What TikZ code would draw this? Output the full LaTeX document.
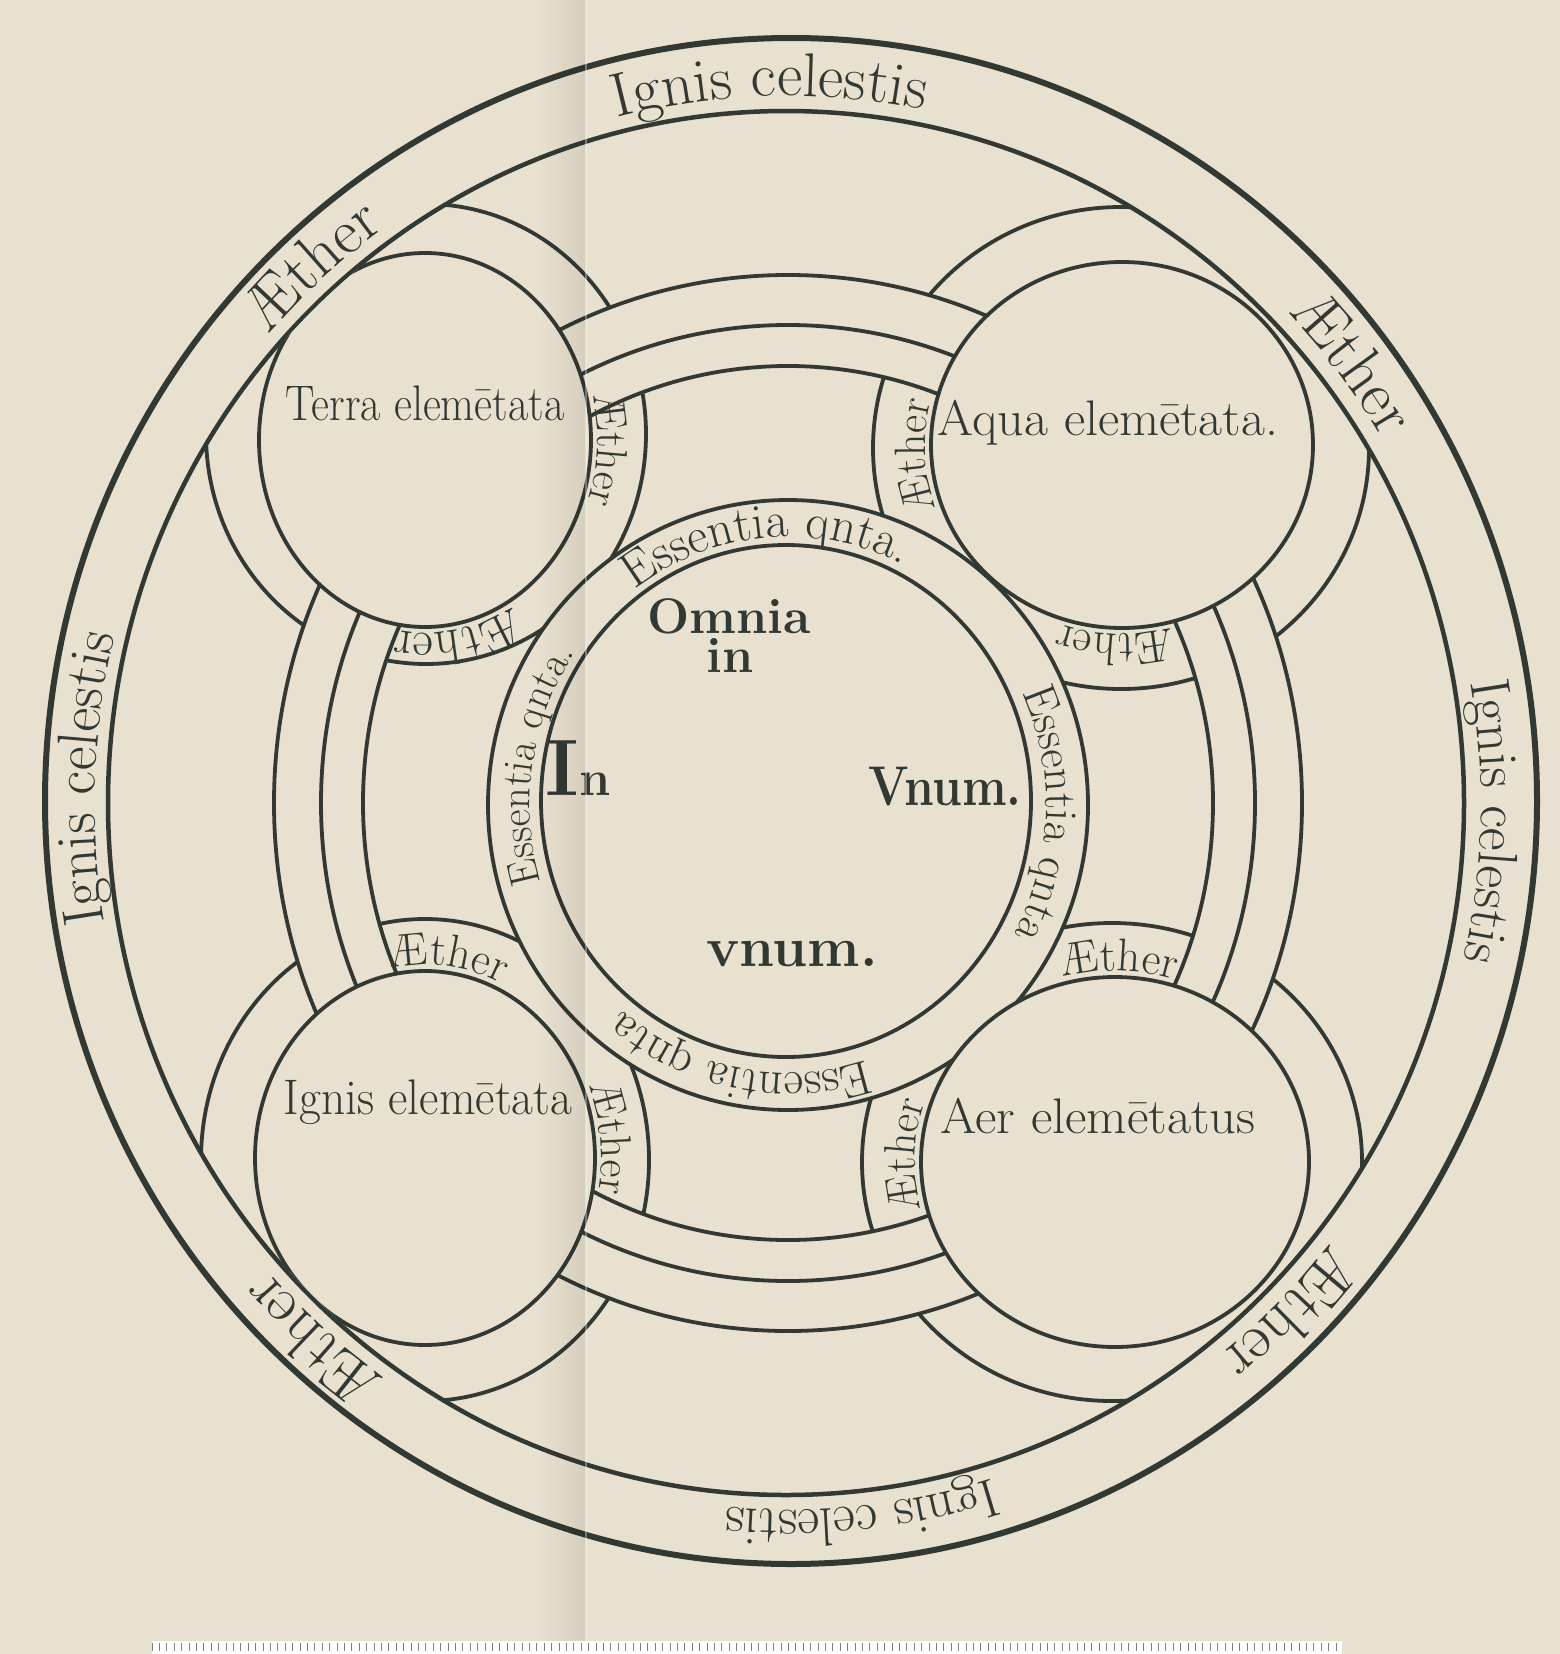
\documentclass[tikz,border=0pt]{standalone}
\usepackage{graphicx}
\usetikzlibrary{decorations.text}
\definecolor{paper}{RGB}{233,225,207}
\definecolor{ink}{RGB}{50,56,50}
\newcommand{\arctext}[7]{%
  \path[decorate, decoration={text along path, text align=center,
    text={|\fontsize{#6}{#6}\selectfont\color{ink}|#7}}]
    (#1) ++(#4:#2 and #3) arc[start angle=#4, end angle=#5, x radius=#2, y radius=#3];}
\begin{document}
\begin{tikzpicture}[x=1pt,y=1pt,line join=round,
  inkline/.style={draw=ink, line width=3.8pt},
  heavyline/.style={draw=ink, line width=6pt},
  lbl/.style={text=ink, inner sep=0pt, anchor=base}]
\useasboundingbox (0,0) rectangle (1560,-1654);
\fill[paper] (0,0) rectangle (1560,-1654);
% centres
\coordinate (OC) at (791,-801);
\coordinate (IC) at (786,-803);
\coordinate (BC) at (788,-803);
\coordinate (EC) at (788,-805);
\coordinate (EI) at (786,-801);
\coordinate (TC) at (425,-440);
\coordinate (QC) at (1122,-445);
\coordinate (GC) at (425,-1158);
\coordinate (RC) at (1115,-1162);
\coordinate (TR) at (426,-434);
\coordinate (QR) at (1121,-448);
\coordinate (GR) at (425,-1160);
\coordinate (RR) at (1112,-1162);
% outer band
\draw[heavyline] (OC) ellipse [x radius=746, y radius=763];
\draw[inkline, line width=4.5pt] (IC) ellipse [x radius=678, y radius=692];
% aether rings of the elements
\begin{scope}
  \clip (IC) ellipse [x radius=678, y radius=692];
  \draw[inkline] (TR) ellipse [x radius=220, y radius=230];
  \draw[inkline] (QR) ellipse [x radius=248, y radius=241];
  \draw[inkline] (GR) ellipse [x radius=224, y radius=241];
  \draw[inkline] (RR) ellipse [x radius=250, y radius=239];
\end{scope}
% great band
\fill[paper, even odd rule] (BC) ellipse [x radius=514, y radius=528] (BC) ellipse [x radius=425, y radius=437];
\draw[inkline] (BC) ellipse [x radius=514, y radius=528];
\draw[inkline] (BC) ellipse [x radius=467, y radius=478];
\draw[inkline] (BC) ellipse [x radius=425, y radius=437];
% essentia quinta ring
\fill[paper] (EC) ellipse [x radius=300, y radius=305];
\draw[inkline] (EC) ellipse [x radius=300, y radius=305];
\draw[inkline] (EI) ellipse [x radius=245, y radius=256];
% element circles
\begin{scope}
  \clip (IC) ellipse [x radius=676, y radius=690];
  \filldraw[fill=paper, inkline] (TC) ellipse [x radius=166, y radius=187];
  \filldraw[fill=paper, inkline] (QC) ellipse [x radius=191, y radius=183];
  \filldraw[fill=paper, inkline] (GC) ellipse [x radius=170, y radius=187];
  \filldraw[fill=paper, inkline] (RC) ellipse [x radius=194, y radius=185];
\end{scope}
% texts of the outer band
\arctext{BC}{693}{707}{112}{71}{62}{Ignis celestis}
\arctext{BC}{693}{707}{154}{110}{64}{Æther}
\arctext{BC}{693}{707}{60}{15}{64}{Æther}
\arctext{BC}{693}{707}{20}{-23}{56}{Ignis celestis}
\arctext{BC}{693}{707}{-23}{-67}{64}{Æther}
\arctext{BC}{693}{707}{-63}{-105}{54}{Ignis celestis}
\arctext{BC}{693}{707}{-110}{-154}{64}{Æther}
\arctext{BC}{693}{707}{200}{156}{58}{Ignis celestis}
% texts of the essentia ring
\arctext{EC}{258}{268}{140}{50}{50}{Essentia qnta.}
\arctext{EC}{258}{268}{215}{127}{42}{Essentia qnta.}
\arctext{EC}{258}{268}{42}{-46}{46}{Essentia qnta}
\arctext{EC}{258}{268}{-56}{-146}{48}{Essentia qnta}
% aether labels in the element rings
\arctext{TC}{172}{193}{37}{-43}{44}{Æther}
\arctext{TC}{172}{193}{-35}{-125}{50}{Æther}
\arctext{QC}{197}{189}{223}{143}{44}{Æther}
\arctext{QC}{197}{189}{-52}{-132}{46}{Æther}
\arctext{GC}{176}{193}{123}{43}{46}{Æther}
\arctext{GC}{176}{193}{46}{-34}{44}{Æther}
\arctext{RC}{200}{191}{129}{49}{46}{Æther}
\arctext{RC}{200}{191}{218}{138}{44}{Æther}
% element names
\node[lbl] (terra) at (425,-420) {\fontsize{50}{50}\selectfont\scalebox{0.88}[1]{Terra elemētata}};
\node[lbl] (aqua) at (1108,-435) {\fontsize{50}{50}\selectfont\scalebox{1.04}[1]{Aqua elemētata.}};
\node[lbl] (ignis) at (428,-1114) {\fontsize{50}{50}\selectfont\scalebox{0.95}[1]{Ignis elemētata}};
\node[lbl] (aer) at (1098,-1133) {\fontsize{50}{50}\selectfont\scalebox{1.05}[1]{Aer elemētatus}};
% centre
\node[lbl] (omnia) at (729,-633) {\fontsize{50}{50}\selectfont\bfseries Omnia};
\node[lbl] (inA) at (730,-672) {\fontsize{50}{50}\selectfont\bfseries in};
\node[lbl] (inB) at (578,-795) {\bfseries{\fontsize{80}{80}\selectfont I}{\fontsize{50}{50}\selectfont n}};
\node[lbl] (vnumA) at (945,-805) {\fontsize{56}{56}\selectfont\bfseries\scalebox{0.85}[1]{Vnum.}};
\node[lbl] (vnumB) at (792,-966) {\fontsize{56}{56}\selectfont\bfseries vnum.};
% fold of the page
\foreach \i [evaluate=\i as \op using 0.007*\i] in {0,...,11}
  \fill[black, opacity=\op] ({538+4*\i},0) rectangle ({542+4*\i},-1654);
\draw[white, opacity=0.35, line width=2pt] (586,0) -- (586,-1654);
% scale strip
\fill[white] (152,-1641) rectangle (1342,-1654);
\foreach \i in {0,...,160}
  \draw[gray, line width=0.8pt] ({152+7.4*\i},-1643) -- ++(0,-8);
\end{tikzpicture}
\end{document}
